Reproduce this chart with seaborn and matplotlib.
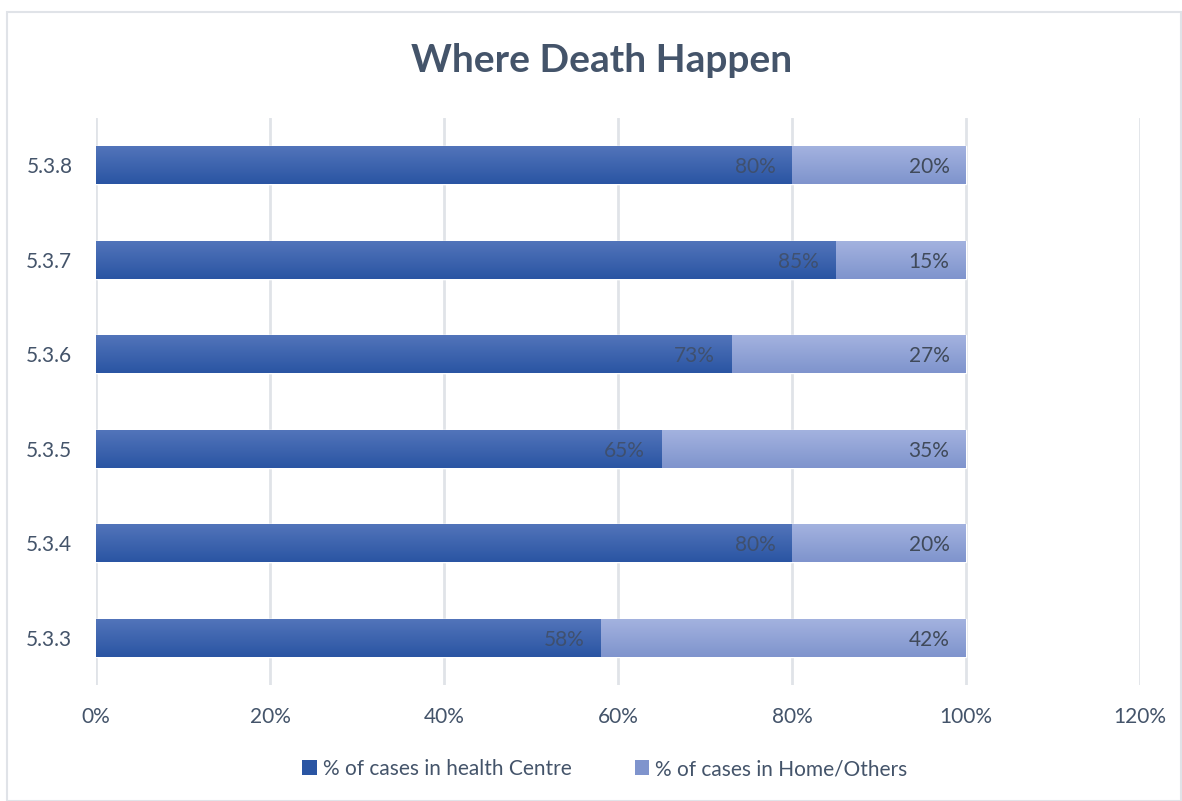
import numpy as np
import pandas as pd
import matplotlib
matplotlib.use("Agg")
import matplotlib.pyplot as plt
import seaborn as sns
from matplotlib.patches import Rectangle, Patch
from matplotlib.colors import LinearSegmentedColormap
from matplotlib.ticker import PercentFormatter

# ---- data ----
categories = ["5.3.3", "5.3.4", "5.3.5", "5.3.6", "5.3.7", "5.3.8"]
health_centre = [58, 80, 65, 73, 85, 80]
home_others = [42, 20, 35, 27, 15, 20]
series_names = ["% of cases in health Centre", "% of cases in Home/Others"]
x_ticks = [0, 20, 40, 60, 80, 100, 120]
title = "Where Death Happen"

sns.set_theme(style="white")
plt.rcParams["font.family"] = ["Lato", "DejaVu Sans"]

text_color = "#44546A"
dark_top, dark_bot = "#5274BA", "#2A55A3"
light_top, light_bot = "#A3B2DF", "#7F94CD"
grid_color = "#E0E3E8"

df = pd.DataFrame({
    "cat": categories,
    "health": health_centre,
    "total": [a + b for a, b in zip(health_centre, home_others)],
})
order = categories[::-1]

fig = plt.figure(figsize=(11.82, 8.01), dpi=100)
ax = fig.add_axes([96 / 1182, 1 - 685 / 801, (1140 - 96) / 1182, (685 - 118) / 801])

sns.barplot(data=df, y="cat", x="total", order=order, orient="h",
            color=light_top, width=0.4, ax=ax, saturation=1)
sns.barplot(data=df, y="cat", x="health", order=order, orient="h",
            color=dark_top, width=0.4, ax=ax, saturation=1)

# gradient fills
n_light = len(order)
patches = list(ax.patches)
for i, p in enumerate(patches):
    x0, y0 = p.get_x(), p.get_y()
    w, h = p.get_width(), p.get_height()
    if i < n_light:
        cmap = LinearSegmentedColormap.from_list("l", [light_top, light_bot])
    else:
        cmap = LinearSegmentedColormap.from_list("d", [dark_top, dark_bot])
    grad = np.linspace(0, 1, 64).reshape(-1, 1)
    im = ax.imshow(grad, cmap=cmap, aspect="auto",
                   extent=[x0, x0 + w, y0 + h, y0],
                   zorder=p.get_zorder() + 0.1 * (i >= n_light) + 0.05,
                   interpolation="bilinear")
    im.set_clip_path(p)
ax.set_xlim(0, 120)
ax.set_ylim(5.5, -0.5)
ax.set_aspect("auto")

# data labels
for j, cat in enumerate(order):
    k = categories.index(cat)
    h = health_centre[k]
    o = home_others[k]
    ax.text(h - 1.9, j + 0.02, f"{h}%", ha="right", va="center",
            fontsize=15, color="#404A5A", alpha=0.75, zorder=10)
    ax.text(h + o - 1.9, j + 0.02, f"{o}%", ha="right", va="center",
            fontsize=15, color="#404A5A", zorder=10)

ax.set_xticks(x_ticks)
ax.xaxis.set_major_formatter(PercentFormatter(decimals=0))
ax.grid(axis="x", color=grid_color, linewidth=2)
ax.set_axisbelow(True)
for s in ax.spines.values():
    s.set_visible(False)
ax.tick_params(axis="x", length=0, pad=16, labelsize=15, labelcolor=text_color)
ax.tick_params(axis="y", length=0, pad=17, labelsize=15, labelcolor=text_color)
ax.set_xlabel("")
ax.set_ylabel("")

fig.text(602 / 1182, 1 - 60 / 801, title, ha="center", va="center",
         fontsize=28, fontweight="bold", color=text_color)

# legend
handles = [Patch(facecolor=dark_bot, edgecolor="none"),
           Patch(facecolor=light_bot, edgecolor="none")]
fig.legend(handles, series_names, loc="center", bbox_to_anchor=(605 / 1182, 1 - 769 / 801),
           ncol=2, frameon=False, fontsize=15, labelcolor=text_color,
           handlelength=0.7, handleheight=0.7, handletextpad=0.3, columnspacing=3.0)

# chart border
fig.patches.append(Rectangle((7 / 1182, 0.0), (1182 - 8) / 1182, 1 - 12 / 801,
                             transform=fig.transFigure, fill=False,
                             edgecolor=grid_color, linewidth=1.5))

fig.savefig("out.png", dpi=100)
